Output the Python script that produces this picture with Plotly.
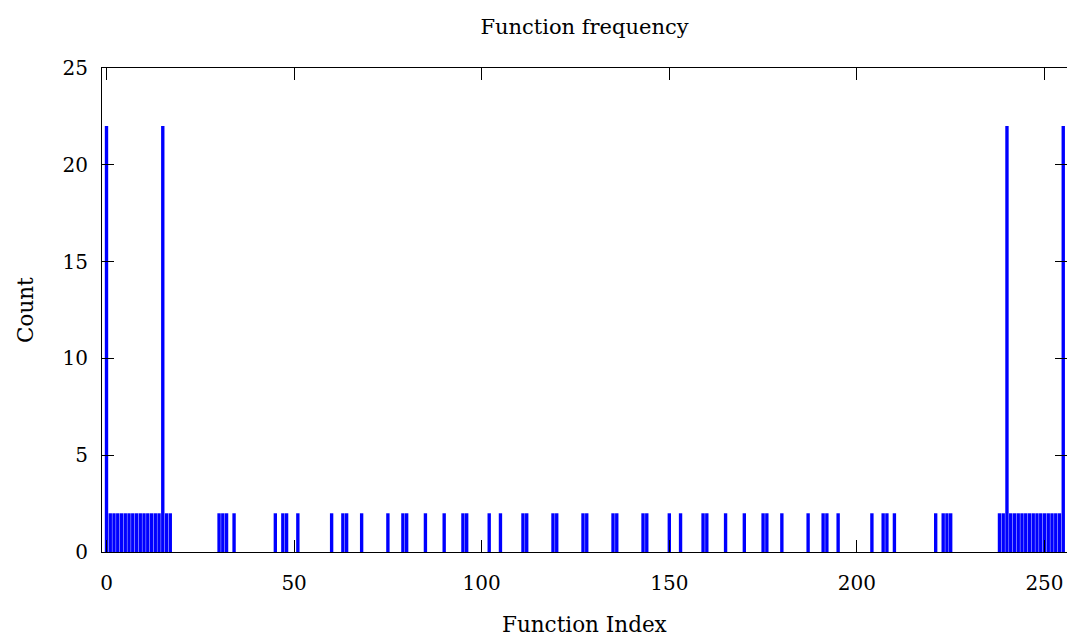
import plotly.graph_objects as go

# Function indices that occur, and how often each occurs
function_index = [
    0, 1, 2, 3, 4, 5, 6, 7, 8, 9, 10, 11, 12, 13, 14, 15, 16, 17,
    30, 31, 32, 34, 45, 47, 48, 51, 60, 63, 64, 68, 75, 79, 80, 85, 90,
    95, 96, 102, 105, 111, 112, 119, 120, 127, 128, 135, 136, 143, 144,
    150, 153, 159, 160, 165, 170, 175, 176, 180, 187, 191, 192, 195,
    204, 207, 208, 210, 221, 223, 224, 225,
    238, 239, 240, 241, 242, 243, 244, 245, 246, 247, 248, 249, 250,
    251, 252, 253, 254, 255,
]
count = [
    22, 2, 2, 2, 2, 2, 2, 2, 2, 2, 2, 2, 2, 2, 2, 22, 2, 2,
    2, 2, 2, 2, 2, 2, 2, 2, 2, 2, 2, 2, 2, 2, 2, 2, 2,
    2, 2, 2, 2, 2, 2, 2, 2, 2, 2, 2, 2, 2, 2,
    2, 2, 2, 2, 2, 2, 2, 2, 2, 2, 2, 2, 2,
    2, 2, 2, 2, 2, 2, 2, 2,
    2, 2, 22, 2, 2, 2, 2, 2, 2, 2, 2, 2, 2,
    2, 2, 2, 2, 22,
]
x_ticks = [0, 50, 100, 150, 200, 250]
y_ticks = [0, 5, 10, 15, 20, 25]

FONT = "DejaVu Serif"
W, H = 1067, 634   # page body has an 8px margin

fig = go.Figure()
fig.add_trace(go.Bar(
    x=function_index, y=count, width=0.9,
    marker=dict(color="#0000ff", line=dict(width=0)),
    showlegend=False,
))

axis_common = dict(
    showgrid=False, zeroline=False, showline=True, linecolor="black",
    linewidth=1, mirror="ticks", ticks="inside", ticklen=12,
    tickwidth=1, tickcolor="black",
    tickfont=dict(family=FONT, size=20, color="black"),
)

fig.update_layout(
    width=W, height=H,
    paper_bgcolor="white", plot_bgcolor="white",
    margin=dict(l=94, r=8, t=60, b=90, autoexpand=False),
    title=dict(text="Function frequency", x=0.5, xref="paper",
               y=1 - 19 / H, yref="container", yanchor="middle",
               font=dict(family=FONT, size=21, color="black")),
    xaxis=dict(range=[-1.2, 256.0], tickvals=x_ticks,
               ticklabelstandoff=13, **axis_common),
    yaxis=dict(range=[0, 25], tickvals=y_ticks,
               ticklabelstandoff=9, **axis_common),
    annotations=[
        dict(text="Function Index", xref="paper", yref="paper",
             x=0.5, y=-72 / 484, xanchor="center", yanchor="middle",
             showarrow=False,
             font=dict(family=FONT, size=21.5, color="black")),
        dict(text="Count", xref="paper", yref="paper",
             x=-77 / 965, y=0.5, xanchor="center", yanchor="middle",
             textangle=-90, showarrow=False,
             font=dict(family=FONT, size=21.5, color="black")),
    ],
)

fig.write_html("out.html")
